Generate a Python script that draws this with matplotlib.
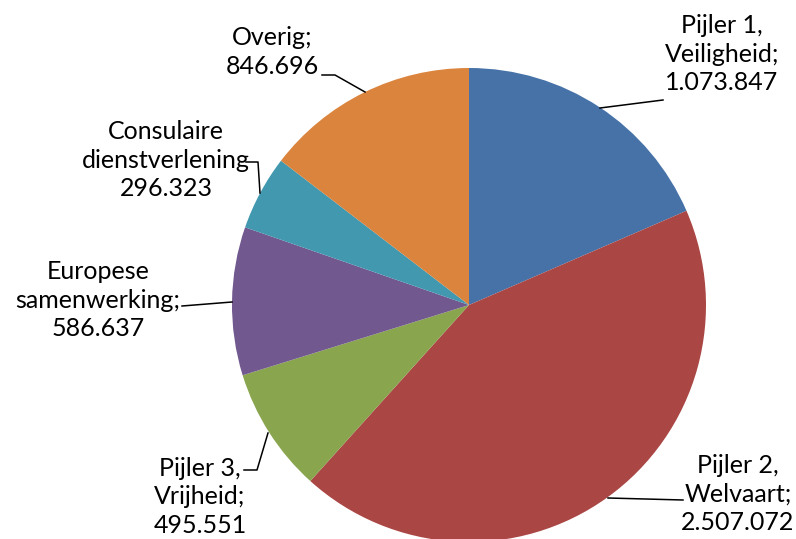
import matplotlib
matplotlib.use("Agg")
from matplotlib import pyplot as plt

# data
labels = ["Pijler 1,\nVeiligheid;\n1.073.847",
          "Pijler 2,\nWelvaart;\n2.507.072",
          "Pijler 3,\nVrijheid;\n495.551",
          "Europese\nsamenwerking;\n586.637",
          "Consulaire\ndienstverlening\n296.323",
          "Overig;\n846.696"]
values = [1073847, 2507072, 495551, 586637, 296323, 846696]
colors = ["#4672A8", "#AA4644", "#89A54E", "#71588F", "#4198AF", "#DB843D"]

# layout in pixel coords (y from top)
W, H = 796, 539
center = (469, 305)
radius = 237
label_pos = [(722, 54), (738, 494), (200, 497), (98, 300), (166, 160), (272, 52)]
leaders = [
    [(600, 108), (663, 100)],
    [(608, 498), (683, 500)],
    [(268, 433), (257, 470), (244, 470)],
    [(232, 302), (182, 306)],
    [(260, 193), (258, 162), (246, 162)],
    [(365, 92), (335, 75), (322, 75)],
]

plt.rcParams['font.family'] = ['Lato', 'DejaVu Sans']
fig = plt.figure(figsize=(W / 100, H / 100), dpi=100)
ax = fig.add_axes([0, 0, 1, 1])
ax.pie(values, colors=colors, startangle=90, counterclock=False,
       center=(center[0], H - center[1]), radius=radius, frame=True,
       wedgeprops=dict(linewidth=0))
ax.set_xlim(0, W)
ax.set_ylim(0, H)
ax.axis("off")

for lab, (x, y) in zip(labels, label_pos):
    ax.text(x, H - y, lab, ha="center", va="center", fontsize=18,
            linespacing=1.28, color="black")

for pts in leaders:
    ax.plot([p[0] for p in pts], [H - p[1] for p in pts], color="black", lw=1.1)

plt.savefig("out.png", dpi=100)
